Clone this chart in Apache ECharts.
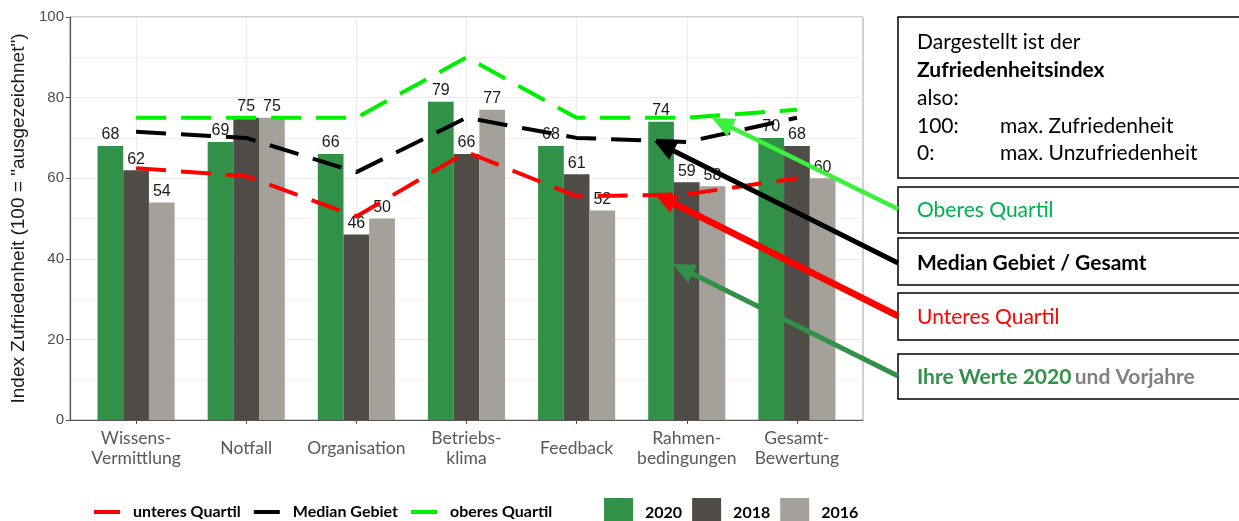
<!DOCTYPE html>
<html>
<head>
<meta charset="utf-8">
<script src="https://cdn.jsdelivr.net/npm/echarts@6/dist/echarts.min.js"></script>
<style>
  html, body { margin: 0; padding: 0; background: #fff; }
  #chart { width: 1239px; height: 521px; }
</style>
</head>
<body>
<div id="chart"></div>
<script>
// Daten
const categories = ['Wissens-\nVermittlung', 'Notfall', 'Organisation', 'Betriebs-\nklima', 'Feedback', 'Rahmen-\nbedingungen', 'Gesamt-\nBewertung'];
const werte2020 = [68, 69, 66, 79, 68, 74, 70];
const werte2018 = [62, 75, 46, 66, 61, 59, 68];
const werte2016 = [54, 75, 50, 77, 52, 58, 60];
const unteresQuartil = [62.5, 60.5, 50.5, 66.5, 55.5, 56, 60];
const medianGebiet = [71.5, 70, 61.5, 75, 70, 69, 75];
const oberesQuartil = [75, 75, 75, 90, 75, 75, 77];
const yTicks = [0, 20, 40, 60, 80, 100];

const chart = echarts.init(document.getElementById('chart'));

const calibri = 'Lato, "Open Sans", sans-serif';
const arial = '"Liberation Sans", Arial, sans-serif';
const catIdx = categories.map((c, i) => i);

function pairs(arr) {
  return arr.map((v, i) => [i, v]);
}

function barSeries(name, data, color) {
  return {
    name: name,
    type: 'bar',
    data: pairs(data),
    barGap: '0%',
    barCategoryGap: '30%',
    itemStyle: { color: color },
    z: 2,
    label: {
      show: true,
      position: 'top',
      distance: 3,
      fontFamily: arial,
      fontSize: 16,
      color: '#1a1a1a',
      formatter: (p) => p.value[1],
    },
  };
}

function lineSeries(name, data, color) {
  return {
    name: name,
    type: 'line',
    data: pairs(data),
    showSymbol: false,
    symbol: 'none',
    z: 5,
    itemStyle: { color: color },
    lineStyle: { color: color, width: 4, type: [30, 15] },
  };
}

// Pfeil von der Box zur Linie
function arrow(x1, y1, x2, y2, color, w) {
  const len = Math.sqrt((x2 - x1) * (x2 - x1) + (y2 - y1) * (y2 - y1));
  const ux = (x2 - x1) / len;
  const uy = (y2 - y1) / len;
  const hl = 22, hw = 10;
  const bx = x2 - ux * hl, by = y2 - uy * hl;
  return [
    {
      type: 'polyline',
      z: 100,
      shape: { points: [[x1, y1], [bx + ux * 2, by + uy * 2]] },
      style: { stroke: color, lineWidth: w, fill: null },
    },
    {
      type: 'polygon',
      z: 100,
      shape: { points: [[x2, y2], [bx - uy * hw, by + ux * hw], [bx + uy * hw, by - ux * hw]] },
      style: { fill: color },
    },
  ];
}

function box(y, h) {
  return {
    type: 'rect',
    z: 90,
    shape: { x: 898, y: y, width: 360, height: h },
    style: { fill: '#fff', stroke: '#000', lineWidth: 1.5 },
  };
}

function txt(x, y, text, extra) {
  return {
    type: 'text',
    z: 95,
    x: x,
    y: y,
    style: Object.assign({
      text: text,
      fontFamily: calibri,
      fontSize: 21,
      fill: '#000',
      verticalAlign: 'middle',
    }, extra || {}),
  };
}

const graphics = [].concat(
  arrow(898, 209, 712, 118, '#3df03d', 4.5),
  arrow(898, 263, 654, 141, '#000000', 5),
  arrow(898, 316, 655, 194, '#ff0000', 6.5),
  arrow(898, 376, 673, 264, '#319148', 5),
  [
    box(17, 161),
    box(187, 46),
    box(238, 47),
    box(293, 47),
    box(354, 45),
    txt(917, 42, 'Dargestellt ist der'),
    txt(917, 70, 'Zufriedenheitsindex', { fontWeight: 'bold' }),
    txt(917, 98, 'also:'),
    txt(917, 126, '100:'),
    txt(1000, 126, 'max. Zufriedenheit'),
    txt(917, 153, '0:'),
    txt(1000, 153, 'max. Unzufriedenheit'),
    txt(917, 210, 'Oberes Quartil', { fill: '#00b050' }),
    txt(917, 263, 'Median Gebiet / Gesamt', { fontWeight: 'bold' }),
    txt(917, 317, 'Unteres Quartil', { fill: '#ff0000' }),
    {
      type: 'text',
      z: 95,
      x: 917,
      y: 377,
      style: {
        text: '{g|Ihre Werte 2020} {k|und Vorjahre}',
        verticalAlign: 'middle',
        rich: {
          g: { fontFamily: calibri, fontSize: 21, fontWeight: 'bold', fill: '#319148', color: '#319148' },
          k: { fontFamily: calibri, fontSize: 21, fontWeight: 'bold', fill: '#808080', color: '#808080' },
        },
      },
    },
  ]
);

const option = {
  animation: false,
  backgroundColor: '#fff',
  grid: {
    left: 70,
    right: 376,
    top: 17,
    bottom: 101,
    containLabel: false,
    outerBoundsMode: 'none',
    show: true,
    borderColor: '#a0a0a0',
    borderWidth: 1,
  },
  legend: [
    {
      data: ['unteres Quartil', 'Median Gebiet', 'oberes Quartil'],
      left: 94,
      top: 502,
      padding: 0,
      icon: 'rect',
      itemWidth: 26,
      itemHeight: 4,
      itemGap: 13,
      textStyle: { fontFamily: calibri, fontSize: 16, fontWeight: 'bold', color: '#000', padding: [0, 0, 0, 8], lineHeight: 20 },
    },
    {
      data: ['2020', '2018', '2016'],
      left: 604,
      top: 498,
      padding: 0,
      icon: 'rect',
      itemWidth: 29,
      itemHeight: 29,
      itemGap: 10,
      textStyle: { fontFamily: calibri, fontSize: 16, fontWeight: 'bold', color: '#000', padding: [0, 0, 0, 7] },
    },
  ],
  xAxis: {
    type: 'value',
    min: -0.6,
    max: 6.6,
    axisLine: { show: true, onZero: false, lineStyle: { color: '#555', width: 1.2 } },
    axisTick: { show: true, length: 4, customValues: catIdx, lineStyle: { color: '#555' } },
    axisLabel: {
      customValues: catIdx,
      formatter: (v) => categories[Math.round(v)],
      fontFamily: calibri,
      fontSize: 17.5,
      lineHeight: 20,
      color: '#595959',
      verticalAlign: 'middle',
      margin: 28,
    },
    splitLine: { show: true, lineStyle: { color: '#ebebeb', width: 1 } },
  },
  yAxis: {
    type: 'value',
    min: 0,
    max: 100,
    interval: 20,
    name: 'Index Zufriedenheit (100 = "ausgezeichnet")',
    nameLocation: 'middle',
    nameGap: 36,
    nameTextStyle: { fontFamily: arial, fontSize: 19, color: '#1a1a1a' },
    axisLine: { show: true, onZero: false, lineStyle: { color: '#555', width: 1.2 } },
    axisTick: { show: true, length: 4, lineStyle: { color: '#555' } },
    axisLabel: {
      fontFamily: arial,
      fontSize: 15,
      color: '#4d4d4d',
      margin: 6,
      formatter: (v) => (yTicks.indexOf(v) >= 0 ? String(v) : ''),
    },
    splitLine: { show: true, lineStyle: { color: '#ebebeb', width: 1.2 } },
    minorTick: { show: false, splitNumber: 2 },
    minorSplitLine: { show: true, lineStyle: { color: '#f3f3f3', width: 1 } },
  },
  series: [
    barSeries('2020', werte2020, '#319148'),
    barSeries('2018', werte2018, '#4f4c48'),
    barSeries('2016', werte2016, '#a4a19a'),
    lineSeries('unteres Quartil', unteresQuartil, '#ff0000'),
    lineSeries('Median Gebiet', medianGebiet, '#000000'),
    lineSeries('oberes Quartil', oberesQuartil, '#00ee00'),
  ],
  graphic: graphics,
};

chart.setOption(option);
</script>
</body>
</html>
